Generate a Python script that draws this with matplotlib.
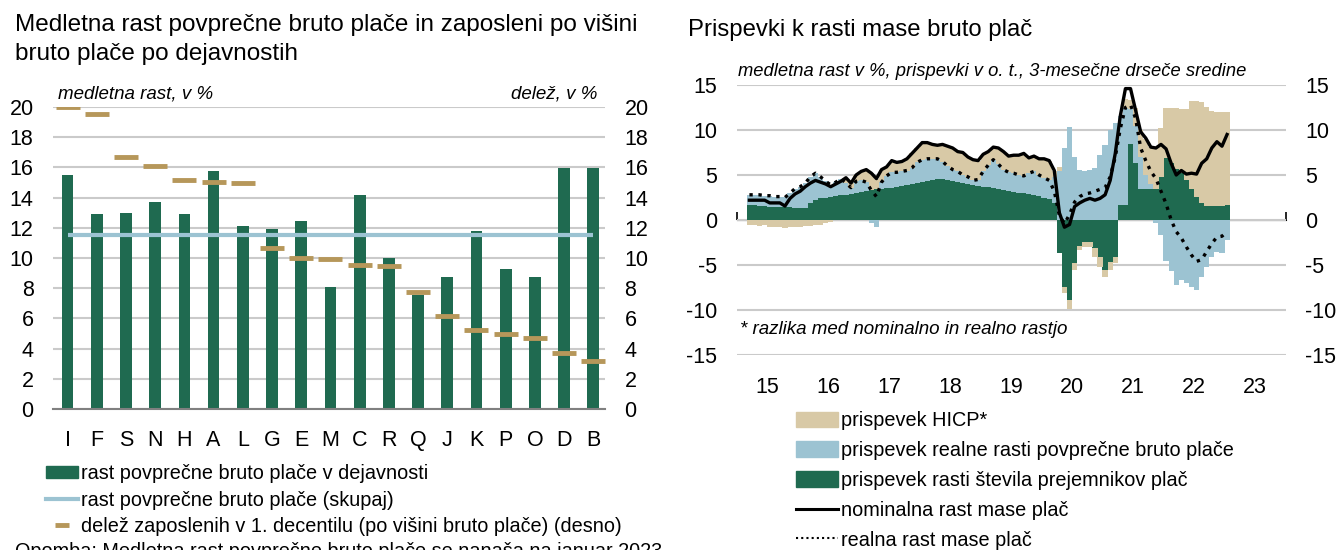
import numpy as np
import matplotlib.pyplot as plt
from matplotlib.patches import Patch
from matplotlib.lines import Line2D

plt.rcParams['font.family'] = ['Liberation Sans', 'DejaVu Sans']
plt.rcParams['axes.unicode_minus'] = False

# ---------------- data: left chart ----------------
categories = ['I', 'F', 'S', 'N', 'H', 'A', 'L', 'G', 'E', 'M', 'C', 'R', 'Q', 'J', 'K', 'P', 'O', 'D', 'B']
wage_growth = [15.5, 12.9, 12.95, 13.7, 12.9, 15.75, 12.15, 11.9, 12.45, 8.07, 14.15, 10.03,
               7.54, 8.73, 11.78, 9.3, 8.73, 15.94, 15.99]
wage_growth_total = 11.5
share_1st_decile = [20.0, 19.56, 16.67, 16.12, 15.15, 15.04, 14.97, 10.69, 10.03, 9.92, 9.55, 9.48,
                    7.72, 6.13, 5.23, 4.96, 4.72, 3.68, 3.2]

# ---------------- data: right chart (monthly, Mar 2015 - Jan 2023) ----------------
start_year, start_month = 2015, 3
contrib_employment = [
    1.7, 1.65, 1.6, 1.55, 1.5, 1.45, 1.45, 1.4, 1.4, 1.35,                    # 2015
    1.3, 1.3, 1.9, 2.2, 2.4, 2.5, 2.6, 2.7, 2.75, 2.8, 2.9, 3.0,              # 2016
    3.1, 3.2, 3.3, 3.4, 3.5, 3.55, 3.6, 3.7, 3.8, 3.9, 4.0, 4.1,              # 2017
    4.25, 4.35, 4.5, 4.6, 4.55, 4.45, 4.35, 4.2, 4.1, 4.0, 3.9, 3.8,          # 2018
    3.7, 3.65, 3.55, 3.45, 3.35, 3.25, 3.15, 3.05, 2.95, 2.85, 2.75, 2.65,    # 2019
    2.5, 2.3, 1.9, -3.7, -7.4, -8.9, -4.8, -2.9, -2.4, -2.4, -3.1, -4.1,      # 2020
    -5.6, -4.7, -4.1, 1.7, 1.7, 8.5, 6.3, 3.5, 3.5, 3.5, 3.5, 4.8,            # 2021
    6.85, 6.3, 5.7, 5.2, 4.4, 3.5, 2.6, 1.85, 1.55, 1.55, 1.55, 1.55,         # 2022
    1.65,                                                                      # 2023
]
contrib_real_wage = [
    1.1, 1.15, 1.2, 1.15, 1.2, 1.15, 1.15, 1.1, 1.6, 2.15,
    2.4, 2.8, 2.9, 3.0, 2.4, 1.8, 1.3, 1.5, 1.85, 1.3, 0.7, 1.3,
    1.3, 1.0, -0.3, -0.8, 0.7, 1.35, 1.7, 1.6, 1.6, 1.6, 1.8, 2.3,
    2.45, 2.45, 2.3, 2.2, 1.95, 1.55, 1.25, 1.2, 0.9, 0.8, 0.5, 0.7,
    1.7, 2.45, 3.15, 2.75, 2.25, 2.05, 2.05, 1.95, 1.95, 2.35, 2.65, 2.35,
    2.2, 2.1, 2.9, 5.4, 8.0, 10.3, 7.0, 5.6, 5.5, 5.6, 5.8, 7.2,
    8.3, 10.0, 10.8, 9.8, 10.7, 3.8, 4.2, 3.5, 1.5, 0.5, -0.3, -1.7,
    -4.6, -5.7, -7.2, -6.7, -7.0, -7.4, -7.8, -6.3, -5.2, -4.1, -3.5, -3.7,
    -2.2,
]
contrib_hicp = [
    -0.6, -0.6, -0.7, -0.6, -0.8, -0.8, -0.8, -0.9, -0.8, -0.8,
    -0.8, -0.7, -0.7, -0.6, -0.5, -0.3, -0.2, 0.0, 0.0, 0.5, 0.5, 0.7,
    1.0, 1.4, 1.9, 1.2, 1.4, 1.0, 1.3, 1.1, 1.1, 1.3, 1.6, 1.6,
    1.9, 1.8, 1.6, 1.5, 1.9, 2.2, 2.4, 2.2, 2.5, 2.2, 2.3, 2.1,
    1.9, 1.5, 1.4, 1.8, 2.0, 1.8, 2.0, 2.2, 2.5, 1.7, 1.7, 1.8,
    2.1, 2.2, 0.7, 0.5, -0.7, -1.0, -0.8, -0.4, -0.6, -0.6, -1.0, -1.1,
    -0.7, -0.9, -0.7, 0.0, 1.0, 1.0, 2.0, 3.0, 4.0, 4.1, 4.5, 5.4,
    5.55, 6.2, 6.7, 7.1, 7.9, 9.7, 10.6, 11.25, 11.05, 10.55, 10.45, 10.45,
    10.35,
]
nominal_growth = [
    2.2, 2.2, 2.2, 2.2, 1.9, 1.9, 1.9, 1.55, 2.4, 2.9,
    3.2, 3.7, 4.1, 4.4, 4.2, 4.0, 3.7, 4.0, 4.3, 4.7, 4.1, 5.0,
    5.4, 5.6, 5.2, 4.6, 5.6, 5.9, 6.6, 6.4, 6.5, 6.8, 7.4, 8.0,
    8.6, 8.6, 8.4, 8.3, 8.4, 8.2, 8.0, 7.6, 7.5, 7.0, 6.7, 6.6,
    7.3, 7.6, 8.1, 8.0, 7.6, 7.1, 7.2, 7.2, 7.4, 6.9, 7.1, 6.8,
    6.8, 6.6, 5.5, 0.8, -0.8, -0.5, 1.5, 1.9, 2.2, 2.4, 2.2, 2.4,
    2.8, 4.4, 7.4, 11.6, 14.6, 14.6, 12.2, 9.8, 9.1, 8.1, 8.0, 8.4,
    7.9, 6.3, 5.0, 5.5, 5.1, 5.2, 5.1, 6.3, 6.8, 8.0, 8.7, 8.2,
    9.5,
]
real_growth = [
    2.8, 2.8, 2.8, 2.7, 2.7, 2.6, 2.6, 2.5, 3.0, 3.5,
    3.7, 4.1, 4.8, 5.2, 4.8, 4.3, 3.9, 4.2, 4.6, 4.1, 3.6, 4.3,
    4.4, 4.2, 3.3, 2.6, 4.2, 4.9, 5.3, 5.3, 5.4, 5.5, 5.8, 6.4,
    6.7, 6.8, 6.8, 6.8, 6.5, 6.0, 5.6, 5.4, 5.0, 4.8, 4.4, 4.5,
    5.4, 6.1, 6.7, 6.2, 5.6, 5.3, 5.2, 5.0, 4.9, 5.2, 5.4, 5.0,
    4.7, 4.4, 3.2, 0.5, -0.4, 0.6, 2.0, 2.6, 2.9, 3.0, 3.2, 3.4,
    3.6, 4.8, 7.0, 10.2, 12.5, 12.8, 11.3, 8.0, 6.6, 5.4, 4.6, 3.2,
    1.8, 0.0, -1.3, -2.0, -3.0, -3.9, -4.6, -4.4, -3.5, -2.6, -1.9, -1.8,
    -1.3,
]
year_labels = ['15', '16', '17', '18', '19', '20', '21', '22', '23']

# ---------------- style ----------------
green = '#1f6a50'
light_blue = '#9cc3d2'
tan = '#d8c9a6'
dash_tan = '#b6975a'
grid_c = '#cacaca'

W, H = 1338, 550
fig = plt.figure(figsize=(W / 100, H / 100), dpi=100)


def fx(x):
    return x / W


def fy(y):
    return 1 - y / H


# ================= left chart =================
ax = fig.add_axes([fx(53), fy(409), (605 - 53) / W, (409 - 107) / H])
xpos = np.arange(len(categories))
ax.bar(xpos, wage_growth, width=0.4, color=green, zorder=2)
ax.hlines(wage_growth_total, xpos[0], xpos[-1], color=light_blue, lw=3, zorder=3)
ax.set_xlim(-0.5, len(categories) - 0.6)
ax.set_ylim(0, 20)
ax.set_yticks(range(0, 21, 2))
ax.grid(axis='y', color=grid_c, lw=1.5, zorder=0)
ax.set_axisbelow(True)
ax.set_xticks(xpos, categories)
ax.tick_params(axis='x', length=0, pad=15, labelsize=15.5)
ax.tick_params(axis='y', length=0, pad=14, labelsize=15.5)
for s in ['top', 'left', 'right']:
    ax.spines[s].set_visible(False)
ax.spines['bottom'].set_color('#808080')
ax.spines['bottom'].set_linewidth(1.5)

ax2 = ax.twinx()
ax2.plot(xpos, share_1st_decile, ls='none', marker='_', ms=17, mew=3.5, color=dash_tan, zorder=4)
ax2.set_ylim(0, 20)
ax2.set_yticks(range(0, 21, 2))
ax2.tick_params(axis='y', length=0, pad=14, labelsize=15.5)
for s in ax2.spines.values():
    s.set_visible(False)

fig.text(fx(58), fy(94), 'medletna rast, v %', style='italic', fontsize=13.5, va='center')
fig.text(fx(597), fy(94), 'delež, v %', style='italic', fontsize=13.5, va='center', ha='right')
fig.text(fx(15), fy(14), 'Medletna rast povprečne bruto plače in zaposleni po višini\nbruto plače po dejavnostih',
         fontsize=17.5, va='top', linespacing=1.42)

left_handles = [
    Patch(color=green),
    Line2D([], [], color=light_blue, lw=3),
    Line2D([], [], ls='none', marker='_', ms=10, mew=3.5, color=dash_tan),
]
left_labels = ['rast povprečne bruto plače v dejavnosti',
               'rast povprečne bruto plače (skupaj)',
               'delež zaposlenih v 1. decentilu (po višini bruto plače) (desno)']
ax.legend(left_handles, left_labels, loc='upper left', bbox_to_anchor=(fx(46), fy(464)),
          bbox_transform=fig.transFigure, frameon=False, fontsize=14.3, handlelength=1.6,
          handleheight=0.6, handletextpad=0.15, labelspacing=0.38, borderpad=0, borderaxespad=0)

fig.text(fx(15), fy(542), 'Opomba: Medletna rast povprečne bruto plače se nanaša na januar 2023.',
         fontsize=14.3, va='top')

# ================= right chart =================
axr = fig.add_axes([fx(736.7), fy(355), 548.8 / W, 270 / H])
n = len(contrib_employment)
months = np.arange(n) + (start_month - 1)
x = start_year + (months + 0.5) / 12
bw = 1 / 12 * 1.04

pos_base = np.zeros(n)
neg_base = np.zeros(n)
for vals, col in [(contrib_employment, green), (contrib_real_wage, light_blue), (contrib_hicp, tan)]:
    v = np.array(vals)
    p = np.clip(v, 0, None)
    q = np.clip(v, None, 0)
    axr.bar(x, p, width=bw, bottom=pos_base, color=col, lw=0, zorder=2)
    axr.bar(x, q, width=bw, bottom=neg_base, color=col, lw=0, zorder=2)
    pos_base += p
    neg_base += q

axr.plot(x, nominal_growth, color='black', lw=2.4, zorder=4)
axr.plot(x, real_growth, color='black', lw=2.4, ls=(0, (1, 1.7)), zorder=4)

axr.set_xlim(2015, 2024)
axr.set_ylim(-15, 15)
axr.set_yticks(range(-15, 16, 5))
axr.grid(axis='y', color=grid_c, lw=1.5, zorder=0)
axr.set_axisbelow(True)
axr.set_xticks(np.arange(2015.5, 2024, 1), year_labels)
axr.tick_params(axis='x', length=0, pad=16, labelsize=15.5)
axr.tick_params(axis='y', length=0, pad=14, labelsize=15.5, labelleft=True, labelright=True)
for s in axr.spines.values():
    s.set_visible(False)

zero_ax = axr.secondary_xaxis(0.5)
year_edges = list(range(2015, 2025))
zero_ax.set_xticks(year_edges, labels=[''] * len(year_edges))
zero_ax.tick_params(direction='out', length=6, width=1.2, color='black')
zero_ax.spines['bottom'].set_linewidth(1.3)
zero_ax.spines['bottom'].set_color('black')

fig.text(fx(688), fy(30), 'Prispevki k rasti mase bruto plač', fontsize=17.2, va='center')
fig.text(fx(738), fy(72), 'medletna rast v %, prispevki v o. t., 3-mesečne drseče sredine',
         style='italic', fontsize=13.2, va='center')
fig.text(fx(740), fy(330), '* razlika med nominalno in realno rastjo', style='italic', fontsize=13.5,
         va='center')

right_handles = [
    Patch(color=tan),
    Patch(color=light_blue),
    Patch(color=green),
    Line2D([], [], color='black', lw=2.2),
    Line2D([], [], color='black', lw=1.5, ls=(0, (1, 1.5))),
]
right_labels = ['prispevek HICP*',
                'prispevek realne rasti povprečne bruto plače',
                'prispevek rasti števila prejemnikov plač',
                'nominalna rast mase plač',
                'realna rast mase plač']
axr.legend(right_handles, right_labels, loc='upper left', bbox_to_anchor=(fx(796), fy(411)),
           bbox_transform=fig.transFigure, frameon=False, fontsize=14.3, handlelength=2.1,
           handleheight=0.8, handletextpad=0.15, labelspacing=0.55, borderpad=0, borderaxespad=0)

fig.savefig('out.png', dpi=100)
